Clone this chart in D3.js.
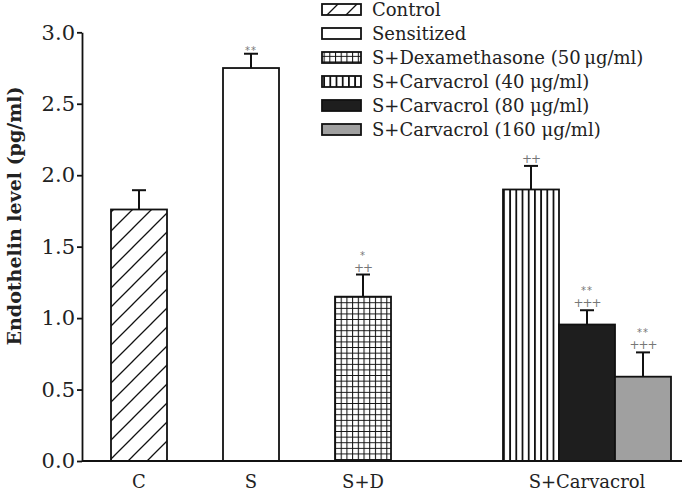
<!DOCTYPE html>
<html><head><meta charset="utf-8">
<script src="https://cdn.jsdelivr.net/npm/d3@7"></script>
<style>
body{margin:0;background:#fff;}
svg{display:block;font-family:"DejaVu Serif",serif;}
</style></head>
<body>
<svg id="chart" width="682" height="491"></svg>
<script>
// ---- data ----
const seriesNames = ["Control","Sensitized","S+Dexamethasone (50\u2009\u03bcg/ml)","S+Carvacrol (40 \u03bcg/ml)","S+Carvacrol (80 \u03bcg/ml)","S+Carvacrol (160 \u03bcg/ml)"];
const barGroup   = ["C","S","S+D","S+Carvacrol","S+Carvacrol","S+Carvacrol"];
const values     = [1.76, 2.75, 1.15, 1.90, 0.955, 0.59];
const errors     = [0.135, 0.10, 0.155, 0.165, 0.10, 0.17];
const starMarks  = ["", "**", "*", "", "**", "**"];
const plusMarks  = ["", "", "++", "++", "+++", "+++"];
const categories = ["C","S","S+D","S+Carvacrol"];
const yTicks     = [0, 0.5, 1.0, 1.5, 2.0, 2.5, 3.0];
const yTitle     = "Endothelin level (pg/ml)";

// ---- layout ----
const svg = d3.select("#chart");
const slot = [0, 2, 4, 7, 8, 9];           // bar slots (in bar widths)
const x = d3.scaleLinear().domain([0, 10]).range([111, 671]);
const bw = x(1) - x(0);
const y = d3.scaleLinear().domain([0, 3]).range([461, 32.3]);
const axisX = 82;

const defs = svg.append("defs");
// diagonal hatch
const pDiag = defs.append("pattern").attr("id","diag").attr("patternUnits","userSpaceOnUse")
  .attr("width",19).attr("height",19);
pDiag.append("path").attr("d","M-5,5 L5,-5 M0,19 L19,0 M14,24 L24,14")
  .attr("stroke","#111").attr("stroke-width",1.3);
// cross hatch
const pCross = defs.append("pattern").attr("id","cross").attr("patternUnits","userSpaceOnUse")
  .attr("width",5.7).attr("height",5.6).attr("x",x(4)).attr("y",y(values[2]));
pCross.append("rect").attr("width",5.7).attr("height",5.6).attr("fill","#fff");
pCross.append("path").attr("d","M0.5,0 V5.6 M0,0.5 H5.7").attr("stroke","#111").attr("stroke-width",1.1);
// vertical stripes
const pVert = defs.append("pattern").attr("id","vert").attr("patternUnits","userSpaceOnUse")
  .attr("width",6.2).attr("height",10).attr("x",x(7));
pVert.append("rect").attr("width",6.2).attr("height",10).attr("fill","#fff");
pVert.append("path").attr("d","M0.9,0 V10").attr("stroke","#111").attr("stroke-width",1.8);

const fills = ["url(#diag)","#fff","url(#cross)","url(#vert)","#1e1e1e","#a0a0a0"];

// bars
svg.append("g").selectAll("rect").data(values).join("rect")
  .attr("x",(d,i)=>x(slot[i])).attr("width",bw)
  .attr("y",d=>y(d)).attr("height",d=>y(0)-y(d))
  .attr("fill",(d,i)=>fills[i]).attr("stroke","#111").attr("stroke-width",1.8);

// error bars
const eg = svg.append("g").attr("stroke","#111").attr("stroke-width",2);
values.forEach((v,i)=>{
  const cx = x(slot[i]) + bw/2;
  eg.append("line").attr("x1",cx).attr("x2",cx).attr("y1",y(v)).attr("y2",y(v+errors[i]));
  eg.append("line").attr("x1",cx-7).attr("x2",cx+7).attr("y1",y(v+errors[i])).attr("y2",y(v+errors[i]));
});

// significance marks
const mg = svg.append("g").attr("fill","#777").attr("text-anchor","middle").style("font-family","'DejaVu Sans',sans-serif");
values.forEach((v,i)=>{
  const cx = x(slot[i]) + bw/2;
  const top = y(v+errors[i]);
  let base = top - 3;
  if (plusMarks[i]) {
    mg.append("text").attr("x",cx).attr("y",base).attr("font-size",12).attr("letter-spacing",-1).text(plusMarks[i]);
    base -= 14;
  }
  if (starMarks[i]) {
    mg.append("text").attr("x",cx).attr("y",plusMarks[i] ? base+1 : base+3).attr("font-size",10).attr("letter-spacing",1).text(starMarks[i]);
  }
});

// y axis
const yAxis = d3.axisLeft(y).tickValues(yTicks).tickFormat(d3.format(".1f")).tickSize(5).tickSizeOuter(0);
const ga = svg.append("g").attr("transform",`translate(${axisX},0)`).call(yAxis);
ga.select(".domain").attr("stroke","#111").attr("stroke-width",1.8);
ga.selectAll(".tick line").attr("stroke","#111").attr("stroke-width",1.8);
ga.selectAll(".tick text").attr("font-family","'DejaVu Serif',serif").attr("font-size",21).attr("fill","#222").attr("x",-7);

// x axis line
svg.append("line").attr("x1",axisX).attr("x2",682).attr("y1",y(0)).attr("y2",y(0))
  .attr("stroke","#111").attr("stroke-width",1.8);

// x category labels
const catCenter = c => {
  const idx = barGroup.map((g,i)=>g===c?i:-1).filter(i=>i>=0);
  return (x(slot[idx[0]]) + x(slot[idx[idx.length-1]]+1))/2;
};
svg.append("g").selectAll("text").data(categories).join("text")
  .attr("x",d=>catCenter(d)).attr("y",488).attr("text-anchor","middle")
  .attr("font-size",18).attr("fill","#222").text(d=>d);

// y title
svg.append("text").attr("transform","translate(21,216) rotate(-90)").attr("text-anchor","middle")
  .attr("font-size",19).attr("font-weight","bold").attr("fill","#222").text(yTitle);

// legend
const lg = svg.append("g");
seriesNames.forEach((n,i)=>{
  const cy = 9.5 + i*24;
  lg.append("rect").attr("x",322).attr("y",cy-5.5).attr("width",39).attr("height",11)
    .attr("fill",fills[i]).attr("stroke","#111").attr("stroke-width",1.8);
  lg.append("text").attr("x",372).attr("y",cy+6).attr("font-size",18).attr("fill","#222").text(n);
});
</script>
</body></html>
